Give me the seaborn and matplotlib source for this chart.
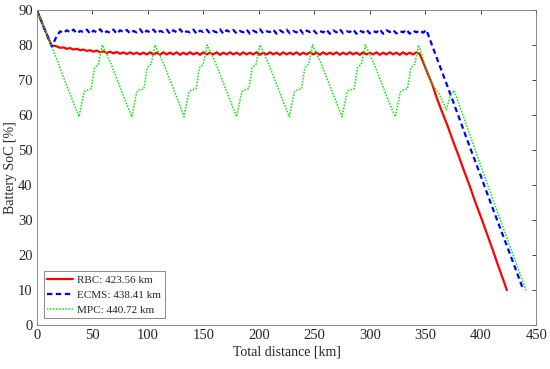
import matplotlib
matplotlib.use("Agg")
import matplotlib.pyplot as plt
import seaborn as sns

# =========================
# Data (distance in km, SoC in %)
# =========================
start_km = [0, 7, 13.5]
start_soc = [90, 84.5, 79.6]

plateau_km = [18, 21, 24, 27, 30, 33, 36, 39, 42, 45,
              48, 51, 54, 57, 60, 63, 66, 69, 72, 75,
              78, 81, 84, 87, 90, 93, 96, 99, 102, 105,
              108, 111, 114, 117, 120, 123, 126, 129, 132, 135,
              138, 141, 144, 147, 150, 153, 156, 159, 162, 165,
              168, 171, 174, 177, 180, 183, 186, 189, 192, 195,
              198, 201, 204, 207, 210, 213, 216, 219, 222, 225,
              228, 231, 234, 237, 240, 243, 246, 249, 252, 255,
              258, 261, 264, 267, 270, 273, 276, 279, 282, 285,
              288, 291, 294, 297, 300, 303, 306, 309, 312, 315,
              318, 321, 324, 327, 330, 333, 336, 339, 342]

# RBC
rbc_plateau = [79.6, 79.2, 79.3, 78.9, 79.1, 78.7, 78.9, 78.5, 78.7, 78.3,
               78.5, 78.1, 78.4, 77.9, 78.2, 77.7, 78.1, 77.6, 78.0, 77.5,
               77.9, 77.4, 77.9, 77.4, 77.8, 77.3, 77.8, 77.3, 77.9, 77.3,
               77.8, 77.2, 77.9, 77.3, 77.8, 77.3, 77.9, 77.2, 77.8, 77.3,
               77.9, 77.3, 77.8, 77.2, 77.9, 77.3, 77.8, 77.3, 77.9, 77.2,
               77.8, 77.3, 77.9, 77.3, 77.8, 77.2, 77.9, 77.3, 77.8, 77.3,
               77.9, 77.2, 77.8, 77.3, 77.9, 77.3, 77.8, 77.2, 77.9, 77.3,
               77.8, 77.3, 77.9, 77.2, 77.8, 77.3, 77.9, 77.3, 77.8, 77.2,
               77.9, 77.3, 77.8, 77.3, 77.9, 77.2, 77.8, 77.3, 77.9, 77.3,
               77.8, 77.2, 77.9, 77.3, 77.8, 77.3, 77.9, 77.2, 77.8, 77.3,
               77.9, 77.3, 77.8, 77.2, 77.9, 77.3, 77.8, 77.3, 77.9]
rbc_tail_km = [345, 348, 352, 356, 360, 365, 370, 375, 380, 385,
               390, 395, 400, 405, 410, 415, 420, 423.56]
rbc_tail_soc = [77.4, 75.2, 72.0, 69.0, 65.2, 61.0, 57.0, 52.6, 48.4, 44.0,
                39.8, 35.2, 31.0, 26.6, 22.2, 17.6, 13.2, 10.0]

# ECMS
ecms_plateau = [82.6, 83.9,
                83.4, 84.2, 83.6, 84.4, 83.3, 84.0, 83.7, 84.4, 83.2, 84.1,
                83.6, 84.5, 83.3, 83.9, 83.5, 84.4, 83.2, 84.2, 83.7, 84.3,
                83.3, 84.0, 83.6, 84.5, 83.2, 84.1, 83.6, 84.4, 83.3, 84.0,
                83.7, 84.4, 83.2, 84.2, 83.6, 84.5, 83.3, 83.9, 83.6, 84.4,
                83.2, 84.1, 83.7, 84.4, 83.3, 84.0, 83.6, 84.5, 83.2, 84.2,
                83.7, 84.3, 83.3, 84.0, 83.6, 84.4, 83.2, 84.1, 83.6, 84.5,
                83.3, 83.9, 83.7, 84.4, 83.2, 84.2, 83.6, 84.4, 83.3, 84.0,
                83.6, 84.5, 83.2, 84.1, 83.7, 84.3, 83.3, 84.0, 83.6, 84.4,
                83.2, 84.2, 83.6, 84.5, 83.3, 83.9, 83.7, 84.4, 83.2, 84.1,
                83.6, 84.4, 83.3, 84.0, 83.6, 84.5, 83.2, 84.2, 83.7, 84.3,
                83.3, 84.0, 83.6, 84.4, 83.2, 84.1, 83.6]
ecms_tail_km = [345, 348, 351, 360, 370, 380, 390, 400, 410, 420, 430, 438.41]
ecms_tail_soc = [84.2, 83.5, 84.3, 76.6, 68.2, 59.6, 51.0, 42.6, 34.0, 25.6, 17.2, 10.0]

# MPC
mpc_km = [0, 13, 25, 38, 42.5, 44, 49, 52, 55.5, 59,
          67, 75, 80.5, 85.5, 90, 91.5, 96.5, 99.5, 103, 106.5,
          114.5, 122.5, 128, 132.5, 137, 138.5, 143.5, 146.5, 150, 153.5,
          161.5, 169.5, 175, 180, 184.5, 186, 191, 194, 197.5, 201,
          209, 217, 222.5, 227.5, 232, 233.5, 238.5, 241.5, 245, 248.5,
          256.5, 264.5, 270, 275, 279.5, 281, 286, 289, 292.5, 296,
          304, 312, 317.5, 323, 327.5, 329, 334, 337, 340.5, 344,
          350, 356, 362.5, 369, 372, 376, 385, 400, 420, 440.72]
mpc_soc = [90, 80, 70, 59.5, 66.5, 67, 67.5, 73.5, 74.5, 80,
           74.5, 68, 63.5, 59.5, 66.5, 67, 67.5, 73.5, 74.5, 80,
           74.5, 68, 63.5, 59.5, 66.5, 67, 67.5, 73.5, 74.5, 80,
           74.5, 68, 63.5, 59.5, 66.5, 67, 67.5, 73.5, 74.5, 80,
           74.5, 68, 63.5, 59.5, 66.5, 67, 67.5, 73.5, 74.5, 80,
           74.5, 68, 63.5, 59.5, 66.5, 67, 67.5, 73.5, 74.5, 80,
           74.5, 68, 63.5, 59.5, 66.5, 67, 67.5, 73.5, 74.5, 80,
           74, 69, 66, 61.5, 65, 67, 59, 45.5, 28, 10]

labels = ["RBC: 423.56 km", "ECMS: 438.41 km", "MPC: 440.72 km"]
x_ticks = [0, 50, 100, 150, 200, 250, 300, 350, 400, 450]
y_ticks = [0, 10, 20, 30, 40, 50, 60, 70, 80, 90]

rbc_km = start_km + [15.5] + plateau_km + rbc_tail_km
rbc_soc = start_soc + [79.8] + rbc_plateau + rbc_tail_soc
ecms_km = start_km + plateau_km + ecms_tail_km
ecms_soc = start_soc + ecms_plateau + ecms_tail_soc

# =========================
# Plot
# =========================
sns.set_style("white")
plt.rcParams['font.family'] = ['Liberation Serif', 'DejaVu Serif']

fig = plt.figure(figsize=(5.5, 3.69), dpi=100)
ax = fig.add_axes([0.067, 0.119, 0.908, 0.854])

sns.lineplot(x=rbc_km, y=rbc_soc, ax=ax, color='#ff0000', lw=1.6,
             linestyle='-', label=labels[0], sort=False)
sns.lineplot(x=ecms_km, y=ecms_soc, ax=ax, color='#0000ff', lw=1.6,
             linestyle=(0, (2.4, 1.6)), label=labels[1], sort=False)
sns.lineplot(x=mpc_km, y=mpc_soc, ax=ax, color='#00ee00', lw=1.1,
             linestyle=(0, (1, 1)), label=labels[2], sort=False)

ax.set_xlim(0, 450)
ax.set_ylim(0, 90)
ax.set_xticks(x_ticks)
ax.set_yticks(y_ticks)
ax.tick_params(direction='in', top=True, right=True, length=3, width=0.6,
               labelsize=10.5, colors='#262626', pad=3)
for s in ax.spines.values():
    s.set_linewidth(0.6)
    s.set_color('#777777')

ax.set_xlabel('Total distance [km]', fontsize=10, labelpad=2)
ax.set_ylabel('Battery SoC [%]', fontsize=10, labelpad=1)

leg = ax.legend(loc='lower left', fontsize=8, frameon=True, fancybox=False,
                framealpha=1, edgecolor='#777777', handlelength=2.3,
                borderaxespad=0.6, labelspacing=0.45, handletextpad=0.4,
                borderpad=0.35)
leg.get_frame().set_linewidth(0.6)

plt.savefig('out.png', dpi=100)
